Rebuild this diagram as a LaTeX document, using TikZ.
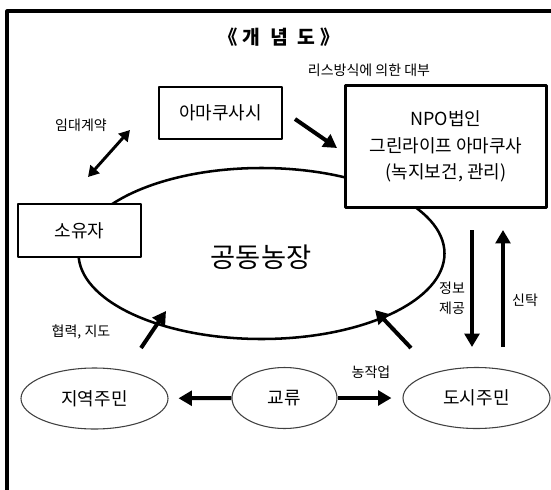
\documentclass[tikz,border=0pt]{standalone}
\usepackage{fontspec}
\setmainfont{Noto Sans CJK KR}
\usetikzlibrary{arrows.meta,shapes.geometric}
\newcommand{\pxu}{0.75pt}
\tikzset{
  every picture/.style={line join=round, >=Triangle},
  frame/.style={line width=2.3pt, line cap=rect},
  box/.style={draw, fill=white, line width=0.8pt, inner sep=0pt, font=\fontsize{13.5}{16}\selectfont},
  bigbox/.style={box, line width=2.3pt, align=center, font=\fontsize{13.5}{20}\selectfont},
  oval/.style={ellipse, draw=black!75, fill=white, line width=0.8pt, inner sep=0pt, font=\fontsize{13.5}{16}\selectfont},
  farmoval/.style={ellipse, draw, line width=1.9pt, inner sep=0pt, font=\fontsize{20}{24}\selectfont},
  lbl/.style={font=\fontsize{10.5}{15}\selectfont, align=center},
  fat/.style={line width=3pt, -{Triangle[length=10pt,width=11pt]}},
  pair/.style={line width=2.2pt, {Triangle[length=8pt,width=9pt]}-{Triangle[length=8pt,width=9pt]}},
}

\begin{document}
\begin{tikzpicture}[x=\pxu, y=-\pxu]
\useasboundingbox (0,0) rectangle (551,490);
\draw[frame] (7,490) -- (7,11) -- (551,11);
\node[font=\fontsize{14.5}{16}\selectfont\bfseries] (title) at (279,37) {《\hspace{4pt}개\hspace{7pt}념\hspace{7pt}도\hspace{4pt}》};

\node[farmoval, minimum width=366*\pxu, minimum height=171*\pxu] (farm) at (261.5,253.5) {};
\node[font=\fontsize{20.5}{24}\selectfont] (farmname) at (261,257) {공동농장};

\node[box, minimum width=123*\pxu, minimum height=52*\pxu] (city) at (220.5,113) {아마쿠사시};
\node[bigbox, minimum width=201*\pxu, minimum height=122*\pxu] (npo) at (446,146.5) {NPO법인\\그린라이프 아마쿠사\\(녹지보건, 관리)};
\node[box, minimum width=123*\pxu, minimum height=53*\pxu] (owner) at (79.5,230.5) {소유자};

\node[oval, minimum width=147*\pxu, minimum height=61*\pxu] (resident) at (94.5,398.5) {지역주민};
\node[oval, minimum width=105*\pxu, minimum height=61*\pxu] (exchange) at (284.5,398) {교류};
\node[oval, minimum width=147*\pxu, minimum height=61*\pxu] (citizen) at (476.5,398) {도시주민};

\node[lbl] (lease) at (369,70) {리스방식에 의한 대부};
\node[lbl] (rent) at (81,125) {임대계약};
\node[lbl] (info) at (452,298) {정보\\제공};
\node[lbl] (trust) at (525,300) {신탁};
\node[lbl] (coop) at (81,332) {협력, 지도};
\node[lbl] (farmwork) at (371,372) {농작업};

\coordinate (city out) at (295,119);
\coordinate (npo in) at (337,148);
\coordinate (rent a) at (88,177);
\coordinate (rent b) at (130,130);
\coordinate (info top) at (472,230);
\coordinate (info bot) at (472,347);
\coordinate (trust bot) at (503,347);
\coordinate (trust top) at (503,230);
\coordinate (res up) at (141,348);
\coordinate (res tip) at (166,311);
\coordinate (cit up) at (411,348);
\coordinate (cit tip) at (375,310);

\draw[fat] (city out) -- (npo in);
\draw[pair] (rent a) -- (rent b);
\draw[fat] (info top) -- (info bot);
\draw[fat] (trust bot) -- (trust top);
\draw[fat] (res up) -- (res tip);
\draw[fat] (cit up) -- (cit tip);
\draw[fat, shorten >=10*\pxu] (exchange) -- (resident);
\draw[fat, shorten >=11*\pxu] (exchange) -- (citizen);
\end{tikzpicture}
\end{document}
